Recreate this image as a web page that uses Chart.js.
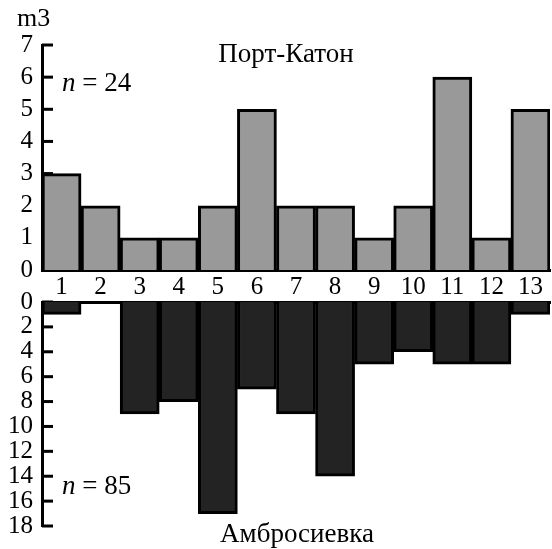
<!DOCTYPE html>
<html>
<head>
<meta charset="utf-8">
<script src="https://cdn.jsdelivr.net/npm/chart.js@4"></script>
<style>
  html, body { margin: 0; padding: 0; background: #fff; font-family: 'Liberation Serif', serif; }
  #wrap { position: relative; width: 552px; height: 549px; overflow: hidden; }
  .box { position: absolute; left: 0; width: 552px; }
  .lbl { position: absolute; font-family: 'Liberation Serif', serif; font-size: 27px; line-height: 27px; color: #000; white-space: nowrap; }
  .ctr { transform: translateX(-50%); }
</style>
</head>
<body>
<div id="wrap">
  <div class="box" style="top:0;height:300px"><canvas id="topChart"></canvas></div>
  <div class="box" style="top:290px;height:259px"><canvas id="bottomChart"></canvas></div>
  <div class="lbl" style="left:17px;top:5px;font-size:26px;line-height:26px">m3</div>
  <div class="lbl ctr" style="left:286px;top:40px">Порт-Катон</div>
  <div class="lbl" style="left:62px;top:69px"><i>n</i> = 24</div>
  <div class="lbl" style="left:62px;top:472px"><i>n</i> = 85</div>
  <div class="lbl ctr" style="left:297px;top:520px">Амбросиевка</div>
</div>
<script>
// categories and values
const categories = ['1', '2', '3', '4', '5', '6', '7', '8', '9', '10', '11', '12', '13'];
const portKaton = [3, 2, 1, 1, 2, 5, 2, 2, 1, 2, 6, 1, 5];
const ambrosievka = [1, 0, 9, 8, 17, 7, 9, 14, 5, 4, 5, 5, 1];

Chart.defaults.font.family = "'Liberation Serif', serif";
Chart.defaults.font.size = 25;
Chart.defaults.color = '#000';

// short tick marks drawn inside the plot, next to the y axis
const innerTicks = {
  id: 'innerTicks',
  beforeDatasetsDraw(chart) {
    const { ctx, chartArea } = chart;
    const y = chart.scales.y;
    ctx.save();
    ctx.strokeStyle = '#000';
    ctx.lineWidth = 3;
    y.ticks.forEach(t => {
      const py = y.getPixelForValue(t.value);
      ctx.beginPath();
      ctx.moveTo(chartArea.left, py);
      ctx.lineTo(chartArea.left + 11, py);
      ctx.stroke();
    });
    ctx.restore();
  }
};

const border = { display: true, color: '#000', width: 3 };

// fixed axis width, no extra room for the end labels
const fitY = s => { s.width = 42; s.paddingTop = 0; s.paddingBottom = 0; };

new Chart(document.getElementById('topChart'), {
  type: 'bar',
  data: {
    labels: categories,
    datasets: [{
      data: portKaton,
      backgroundColor: '#999999',
      borderColor: '#000',
      borderWidth: 3,
      barPercentage: 1,
      categoryPercentage: 1
    }]
  },
  options: {
    responsive: true,
    maintainAspectRatio: false,
    animation: false,
    layout: { padding: { top: 45, right: 2, left: 0, bottom: 0 } },
    plugins: { legend: { display: false }, tooltip: { enabled: false } },
    scales: {
      x: {
        grid: { display: false, drawTicks: false },
        border,
        ticks: { padding: 2, maxRotation: 0, autoSkip: false },
        afterFit: s => { s.height = 30; }
      },
      y: {
        min: 0, max: 7,
        grid: { display: false, drawTicks: false },
        border,
        ticks: { stepSize: 1, padding: 9, autoSkip: false },
        afterFit: fitY
      }
    }
  },
  plugins: [innerTicks]
});

new Chart(document.getElementById('bottomChart'), {
  type: 'bar',
  data: {
    labels: categories,
    datasets: [{
      data: ambrosievka,
      backgroundColor: '#232323',
      borderColor: '#000',
      borderWidth: 3,
      barPercentage: 1,
      categoryPercentage: 1
    }]
  },
  options: {
    responsive: true,
    maintainAspectRatio: false,
    animation: false,
    layout: { padding: { top: 12, right: 2, left: 0, bottom: 23 } },
    plugins: { legend: { display: false }, tooltip: { enabled: false } },
    scales: {
      x: {
        position: 'top',
        grid: { display: false, drawTicks: false },
        border,
        ticks: { display: false },
        afterFit: s => { s.height = 0; }
      },
      y: {
        reverse: true,
        min: 0, max: 18,
        grid: { display: false, drawTicks: false },
        border,
        ticks: { stepSize: 2, padding: 9, autoSkip: false },
        afterFit: fitY
      }
    }
  },
  plugins: [innerTicks]
});
</script>
</body>
</html>
